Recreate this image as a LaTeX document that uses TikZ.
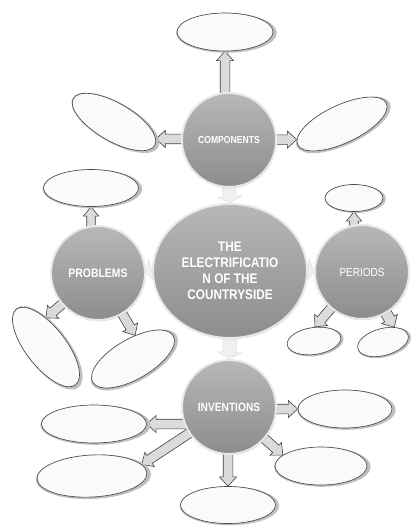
\documentclass[tikz,border=0pt]{standalone}
\usepackage{fontspec}
\newfontfamily\labelfont[FakeStretch=0.85]{Liberation Sans}
\usetikzlibrary{shapes, calc, shadows, positioning}

\pgfdeclarelayer{back}
\pgfsetlayers{back,main}

\tikzset{
  arrow shaft/.store in=\shaftw, arrow shaft=3.6pt,
  arrow head/.store in=\headw, arrow head=6.4pt,
  arrow len/.store in=\arrowlen, arrow len=7pt,
  hub/.style={circle, minimum size=70.5pt, inner sep=0pt, top color=gray!56, middle color=gray!72, bottom color=gray!90,
    draw=white!82!gray, line width=1.5pt, drop shadow={opacity=0.3, shadow xshift=0.5pt, shadow yshift=-0.9pt},
    text=white, font=\labelfont\bfseries\fontsize{7.6}{9}\selectfont},
  leaf/.style={ellipse, draw=black!70, line width=0.5pt, fill=gray!4, inner sep=0pt,
    general shadow={fill=gray!50, shadow xshift=1pt, shadow yshift=-0.6pt, shadow scale=1.05}},
  barrow/.style={fill=gray!28, draw=black!75, line width=0.45pt, line join=miter},
  faint/.style={fill=gray!12, draw=gray!22, arrow shaft=5pt, arrow head=9pt, arrow len=5pt},
}

\newcommand\blockarrow[3][]{%
  \begin{pgfonlayer}{back}
  \begin{scope}[barrow, #1]
    \coordinate (ba) at (#2);
    \coordinate (bb) at (#3);
    \coordinate (bh) at ($(bb)!\arrowlen!(ba)$);
    \filldraw ($(ba)!\shaftw!90:(bb)$) -- ($(bh)!\shaftw!-90:(ba)$) -- ($(bh)!\headw!-90:(ba)$) -- (bb)
      -- ($(bh)!\headw!90:(ba)$) -- ($(bh)!\shaftw!90:(ba)$) -- ($(ba)!\shaftw!-90:(bb)$) -- cycle;
  \end{scope}
  \end{pgfonlayer}}

\begin{document}
\begin{tikzpicture}[x=0.75pt, y=-0.75pt]
\useasboundingbox (0,0) rectangle (411,526);

\node[hub, ellipse, minimum width=115.5pt, minimum height=100.5pt, align=center,
  font=\labelfont\bfseries\fontsize{10.4}{12}\selectfont] (main) at (230,271)
  {THE\\ELECTRIFICATIO\\N OF THE\\COUNTRYSIDE};
\node[hub] (comp) at (229,140) {COMPONENTS};
\node[hub, font=\labelfont\bfseries\fontsize{9.2}{10}\selectfont] (prob) at (98,273) {PROBLEMS};
\node[hub, font=\labelfont\fontsize{8.8}{10}\selectfont] (per) at (362,272) {PERIODS};
\node[hub, font=\labelfont\bfseries\fontsize{9}{10}\selectfont] (inv) at (229,407) {INVENTIONS};

\node[leaf, minimum width=72pt, minimum height=28.5pt] (c1) at (225,32) {};
\node[leaf, minimum width=70.5pt, minimum height=28.5pt, rotate=-30] (c2) at (114,122) {};
\node[leaf, minimum width=73.5pt, minimum height=28.5pt, rotate=25] (c3) at (342,124) {};

\node[leaf, minimum width=71.25pt, minimum height=27.75pt] (p1) at (91,188) {};
\node[leaf, minimum width=72pt, minimum height=30pt, rotate=-52] (p2) at (46,347) {};
\node[leaf, minimum width=69.75pt, minimum height=30pt, rotate=30] (p3) at (133,359) {};

\node[leaf, minimum width=43.5pt, minimum height=20.25pt] (r1) at (354,198) {};
\node[leaf, minimum width=40.5pt, minimum height=20.25pt, rotate=8] (r2) at (314,341) {};
\node[leaf, minimum width=39pt, minimum height=20.25pt, rotate=15] (r3) at (383,342) {};

\node[leaf, minimum width=70.5pt, minimum height=28.5pt] (v1) at (345,409) {};
\node[leaf, minimum width=78.75pt, minimum height=28.5pt] (v2) at (94,424) {};
\node[leaf, minimum width=82.5pt, minimum height=31.5pt, rotate=3] (v3) at (92,476) {};
\node[leaf, minimum width=71.25pt, minimum height=27.75pt] (v4) at (228,505) {};
\node[leaf, minimum width=69pt, minimum height=28.5pt] (v5) at (321,466) {};

% arrows from the hubs
\blockarrow{comp.center -| c1.south}{c1.south}
\blockarrow{comp.center |- c2.8}{c2.8}
\blockarrow{comp.center |- c3.174}{c3.174}

\blockarrow[arrow shaft=3.2pt, arrow head=5.8pt]{prob.center -| p1.south}{p1.south}
\blockarrow{prob.center}{p2.142}
\blockarrow{prob.center}{p3.55}

\blockarrow[arrow shaft=3.2pt, arrow head=5.8pt]{per.center -| r1.south}{r1.south}
\blockarrow{per.center}{r2.78}
\blockarrow[arrow shaft=4.2pt, arrow head=6.8pt]{per.center}{r3.38}

\blockarrow{inv.center |- v1.west}{v1.west}
\blockarrow{inv.center |- v2.east}{v2.east}
\blockarrow{inv.center}{v3.10}
\blockarrow{inv.center -| v4.north}{v4.north}
\blockarrow{inv.center}{v5.164}

\blockarrow[faint]{comp.south}{main.north}
\blockarrow[faint]{main.south}{inv.north}
\blockarrow[faint]{main.west}{prob.east}
\blockarrow[faint]{main.east}{per.west}

\end{tikzpicture}
\end{document}
